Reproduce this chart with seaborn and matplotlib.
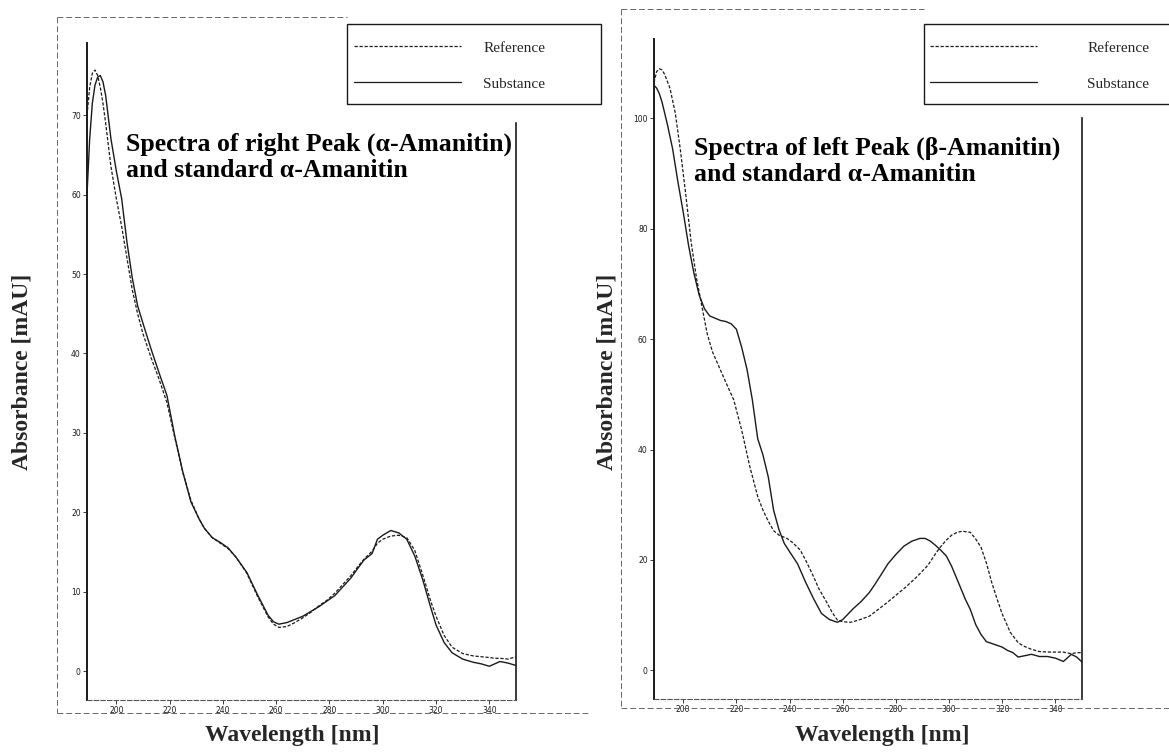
import numpy as np
import pandas as pd
import matplotlib
matplotlib.use("Agg")
import matplotlib.pyplot as plt
from matplotlib.lines import Line2D
from matplotlib.patches import Rectangle
import seaborn as sns

# ---------------- data ----------------
wl_l = [189, 190, 191, 192, 193, 194, 195, 196, 198, 200, 202, 204, 206, 208, 210, 213, 216, 219,
        222, 225, 228, 231, 233, 236, 239, 242, 245, 249, 253, 257, 259, 261, 264, 267, 270, 273,
        276, 279, 282, 285, 288, 291, 293, 296, 298, 300, 303, 306, 309, 312, 315, 318, 320, 323,
        326, 330, 334, 337, 340, 342, 344, 347, 350]
sub_l = [60, 67, 71.5, 73.8, 74.8, 75, 74.2, 72.5, 67, 63, 59.5, 54, 49.5, 46, 43.8, 40.6, 37.6, 34.7,
         29.5, 25, 21.3, 19.2, 18, 16.8, 16.2, 15.5, 14.3, 12.4, 9.6, 7, 6.2, 5.9, 6.1, 6.5, 6.9, 7.5,
         8.1, 8.8, 9.5, 10.6, 11.7, 13.1, 14, 14.8, 16.6, 17.1, 17.7, 17.4, 16.6, 14.5, 11.5, 8, 5.8, 3.6,
         2.3, 1.5, 1.1, 0.9, 0.6, 0.9, 1.2, 1.0, 0.7]
ref_l = [70, 73.5, 75.3, 75.7, 75, 73.5, 71.5, 69, 63.5, 59.5, 56, 52, 48, 45, 42.5, 39.5, 36.8, 33.8,
         29.3, 25, 21.5, 19.2, 18, 16.8, 16.1, 15.4, 14.3, 12.3, 9.4, 6.8, 5.9, 5.5, 5.6, 6.1, 6.7, 7.4,
         8.2, 8.9, 9.8, 10.9, 12, 13.3, 14.1, 15.1, 16.1, 16.6, 17.0, 17.1, 16.8, 15.2, 12.1, 8.8, 6.9, 4.5,
         3.0, 2.2, 1.9, 1.8, 1.7, 1.6, 1.6, 1.5, 1.8]

wl_r_sub = [189, 190, 191, 192, 194, 196, 198, 200, 202, 204, 206, 208, 210, 212, 214, 216, 218, 220,
            222, 224, 226, 228, 230, 232, 234, 236, 238, 240, 243, 246, 249, 252, 255, 258, 260, 262,
            264, 267, 270, 272, 274, 277, 280, 283, 286, 289, 291, 293, 295, 297, 299, 301, 303, 306,
            308, 310, 312, 314, 317, 320, 322, 324, 326, 328, 331, 334, 337, 340, 343, 346, 348, 350]
sub_r = [106, 105.5, 104.5, 103, 99, 94.5, 88.5, 83, 77, 72, 68, 65.5, 64.2, 63.8, 63.4, 63.2, 62.8, 61.8,
         58.5, 54.5, 49, 42, 39, 35, 29, 25.5, 23, 21.5, 19.3, 16, 13, 10.3, 9.2, 8.7, 9.2, 10.2,
         11.2, 12.5, 14.1, 15.5, 17, 19.3, 21, 22.5, 23.4, 23.9, 23.9, 23.4, 22.6, 21.7, 20.7, 18.8, 16.5, 13,
         11, 8.3, 6.5, 5.2, 4.7, 4.2, 3.6, 3.2, 2.4, 2.6, 2.9, 2.5, 2.5, 2.2, 1.6, 2.9, 2.4, 1.5]

wl_r_ref = [189, 190, 191, 192, 193, 195, 197, 199, 201, 203, 205, 207, 209, 211, 213, 216, 219, 222,
            225, 228, 230, 232, 234, 236, 239, 241, 244, 246, 249, 251, 254, 256, 258, 260, 263, 266,
            270, 273, 277, 280, 284, 288, 292, 295, 297, 299, 301, 303, 305, 308, 310, 312, 314, 316,
            318, 320, 323, 326, 328, 331, 334, 338, 343, 346, 348, 350]
ref_r = [106.5, 108.5, 109, 108.8, 108, 105.5, 101, 94, 86, 77.5, 71, 66, 61, 57.7, 55.5, 52.2, 49, 43.5,
         37, 31.5, 29, 27, 25.3, 24.5, 23.9, 23.2, 21.8, 20, 17, 14.8, 12.3, 10.5, 9.1, 8.8, 8.7, 9.1,
         9.8, 10.9, 12.4, 13.6, 15.2, 17, 19, 21.2, 22.5, 23.6, 24.5, 25, 25.2, 25, 23.8, 22.3, 19.5, 16,
         13, 10.2, 6.9, 5, 4.4, 3.8, 3.4, 3.3, 3.3, 3.0, 3.2, 3.2]

x_ticks = [200, 220, 240, 260, 280, 300, 320, 340]
y_ticks_l = [0, 10, 20, 30, 40, 50, 60, 70]
y_ticks_r = [0, 20, 40, 60, 80, 100]
series_labels = ["Reference", "Substance"]
titles = ["Spectra of right Peak (\u03b1-Amanitin)\nand standard \u03b1-Amanitin",
          "Spectra of left Peak (\u03b2-Amanitin)\nand standard \u03b1-Amanitin"]
x_label = "Wavelength [nm]"
y_label = "Absorbance [mAU]"

# ---------------- figure ----------------
sns.set_theme(style="white")
plt.rcParams["font.family"] = ["Liberation Serif", "DejaVu Serif"]

W, H = 1169, 753
fig = plt.figure(figsize=(W / 100, H / 100), dpi=100)


def fx(px):
    return px / W


def fy(py):
    return 1 - py / H


ink = "#1a1a1a"
ref_style = (0, (2.6, 1.4))

panels = [
    dict(rect=(87, 43, 516, 700), ylim=(-3.65, 79.1), yt=y_ticks_l, top=69,
         wl_sub=wl_l, sub=sub_l, wl_ref=wl_l, ref=ref_l, title=titles[0], title_xy=(126, 177),
         box=(347, 24, 601, 104), handle_x=354, textpad=1.45, ylab_x=22, xlab_x=292),
    dict(rect=(654, 39, 1082, 699), ylim=(-5.2, 114.4), yt=y_ticks_r, top=100,
         wl_sub=wl_r_sub, sub=sub_r, wl_ref=wl_r_ref, ref=ref_r, title=titles[1], title_xy=(694, 181),
         box=(924, 24, 1178, 104), handle_x=930, textpad=3.3, ylab_x=607, xlab_x=882),
]

for p in panels:
    x0, y0, x1, y1 = p["rect"]
    ax = fig.add_axes([fx(x0), fy(y1), (x1 - x0) / W, (y1 - y0) / H])
    ax.set_facecolor("none")
    sns.lineplot(x=p["wl_ref"], y=p["ref"], ax=ax, color=ink, linewidth=0.9,
                 linestyle=ref_style, sort=False)
    sns.lineplot(x=p["wl_sub"], y=p["sub"], ax=ax, color=ink, linewidth=1.0, sort=False)
    ax.set_xlim(189, 350)
    ax.set_ylim(*p["ylim"])
    ax.set_xticks(x_ticks)
    ax.set_yticks(p["yt"])
    ax.tick_params(axis="both", which="both", direction="out", length=3, width=0.6,
                   colors=ink, labelsize=5.5, pad=1.5, bottom=True, left=True)
    for lab in ax.get_xticklabels() + ax.get_yticklabels():
        lab.set_fontfamily("DejaVu Sans")
    ax.set_xlabel("")
    ax.set_ylabel("")
    ax.spines["top"].set_visible(False)
    ax.spines["left"].set_color(ink)
    ax.spines["left"].set_linewidth(1.4)
    ax.spines["bottom"].set_color("#555555")
    ax.spines["bottom"].set_linewidth(0.8)
    ax.spines["bottom"].set_linestyle((0, (4, 2)))
    ax.spines["right"].set_color(ink)
    ax.spines["right"].set_linewidth(1.2)
    ax.spines["right"].set_bounds(p["ylim"][0], p["top"])

    # title inside the plot (anchored on the baseline of its last line)
    fig.text(fx(p["title_xy"][0]), fy(p["title_xy"][1]), p["title"], fontsize=18.5,
             fontweight="bold", color="black", ha="left", va="baseline", linespacing=1.15)

    # legend box
    bx0, by0, bx1, by1 = p["box"]
    fig.patches.append(Rectangle((fx(bx0), fy(by1)), (bx1 - bx0) / W, (by1 - by0) / H,
                                 transform=fig.transFigure, fill=False, edgecolor=ink,
                                 linewidth=1.0, zorder=5))
    handles = [Line2D([], [], color=ink, linewidth=0.9, linestyle=ref_style),
               Line2D([], [], color=ink, linewidth=0.9)]
    fig.legend(handles, series_labels, loc="upper left",
               bbox_to_anchor=(fx(p["handle_x"]), fy(by0 + 17)), frameon=False,
               prop={"family": "Liberation Serif", "size": 11},
               handlelength=7.0, handletextpad=p["textpad"], labelspacing=1.45,
               borderpad=0, borderaxespad=0)

    # axis labels
    fig.text(fx(p["xlab_x"]), fy(735), x_label, fontsize=17, fontweight="bold",
             ha="center", va="center")
    fig.text(fx(p["ylab_x"]), fy(372), y_label, fontsize=17, fontweight="bold",
             ha="center", va="center", rotation=90)

# outer (scanned) frames
frame_kw = dict(transform=fig.transFigure, color="#666666", linewidth=0.7,
                linestyle=(0, (6, 3)))
fig.lines.extend([
    Line2D([fx(57), fx(347)], [fy(17), fy(17)], **frame_kw),
    Line2D([fx(57), fx(57)], [fy(17), fy(713)], **frame_kw),
    Line2D([fx(57), fx(590)], [fy(713), fy(713)], **frame_kw),
    Line2D([fx(621), fx(924)], [fy(9), fy(9)], **frame_kw),
    Line2D([fx(621), fx(621)], [fy(9), fy(708)], **frame_kw),
    Line2D([fx(621), fx(1169)], [fy(708), fy(708)], **frame_kw),
])

fig.savefig("out.png", dpi=100, facecolor="white")
